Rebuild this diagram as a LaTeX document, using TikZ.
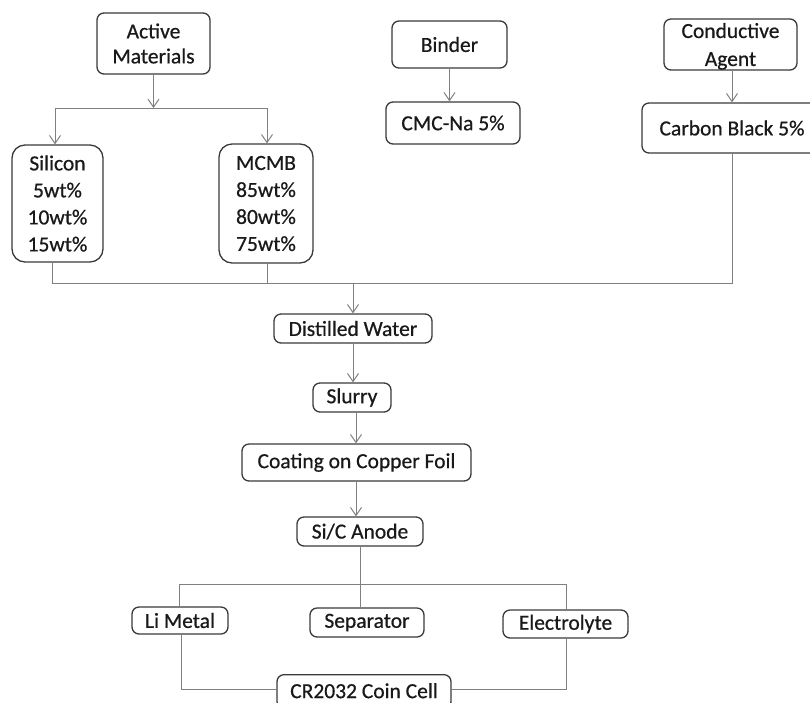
\documentclass[tikz,border=0pt]{standalone}
\usepackage{fontspec}
\setmainfont{Carlito}[BoldFont=Carlito, BoldFeatures={FakeBold=0.6}]
\usetikzlibrary{arrows.meta}
\definecolor{boxline}{HTML}{3A3A3A}
\definecolor{conn}{HTML}{808080}
\tikzset{
  box/.style={draw=boxline, line width=1.3pt, rounded corners=7pt, fill=white,
    inner sep=0pt, align=center, font=\fontsize{21.5}{27}\selectfont\bfseries, text=black!90},
  bigbox/.style={box, rounded corners=13pt},
  link/.style={draw=conn, line width=1pt},
  arr/.style={link, -{Straight Barb[length=8pt,width=11pt,line width=1pt]}},
}
\begin{document}
\begin{tikzpicture}[x=1pt,y=-1pt]
\useasboundingbox (0,0) rectangle (810,702);
\clip (0,0) rectangle (810,702);
% nodes
\node[box, minimum width=113pt, minimum height=61pt] (active) at (153.5,43.5) {Active\\[-2pt]Materials};
\node[bigbox, minimum width=91pt, minimum height=117pt] (silicon) at (57.5,203.5) {Silicon\\5wt\%\\10wt\%\\15wt\%};
\node[bigbox, minimum width=94pt, minimum height=119pt] (mcmb) at (266,203.5) {MCMB\\85wt\%\\80wt\%\\75wt\%};
\node[box, minimum width=115pt, minimum height=47pt] (binder) at (449.5,44.5) {Binder};
\node[box, minimum width=134pt, minimum height=42pt] (cmc) at (453,123) {CMC-Na 5\%};
\node[box, minimum width=133pt, minimum height=51pt, text depth=0pt] (cond) at (730.5,44.5) {\raisebox{2pt}{Conductive}\\[-1pt]Agent};
\node[box, minimum width=180pt, minimum height=50pt] (carbon) at (732,128) {Carbon Black 5\%};
\node[box, minimum width=158pt, minimum height=29pt] (water) at (353,328.5) {Distilled Water};
\node[box, minimum width=78pt, minimum height=29pt] (slurry) at (352,397.5) {Slurry};
\node[box, minimum width=229pt, minimum height=37pt] (coating) at (356.5,462.5) {Coating on Copper Foil};
\node[box, minimum width=126pt, minimum height=29pt] (sic) at (360,531.5) {Si/C Anode};
\node[box, minimum width=96pt, minimum height=27pt] (li) at (180,620.5) {Li Metal};
\node[box, minimum width=114pt, minimum height=29pt] (sep) at (367,622.5) {Separator};
\node[box, minimum width=125pt, minimum height=28pt] (elec) at (565.5,624) {Electrolyte};
\node[box, minimum width=174pt, minimum height=34pt, anchor=north] (coin) at (364,674) {\raisebox{2pt}{CR2032 Coin Cell}};
% coordinates
\coordinate (split) at (153.5,108);
\coordinate (sl) at (55,108);
\coordinate (sr) at (267,108);
\coordinate (jl) at (52,283);
\coordinate (jm) at (267,283);
\coordinate (jr) at (732,283);
\coordinate (jc) at (353,283);
\coordinate (bl) at (179,584);
\coordinate (br) at (566,584);
\coordinate (cl) at (181,689);
\coordinate (cr) at (566,689);
% connectors
\draw[arr] (active.south) -- (split);
\draw[link] (sl) -- (sr);
\draw[arr] (sl) -- (sl |- silicon.north);
\draw[arr] (sr) -- (sr |- mcmb.north);
\draw[arr] (binder.south) -- (binder.south |- cmc.north);
\draw[arr] (732,0 |- cond.south) -- (732,0 |- carbon.north);
\draw[link] (jl |- silicon.south) -- (jl) -- (jr) -- (jr |- carbon.south);
\draw[link] (mcmb.south -| jm) -- (jm);
\draw[arr] (jc) -- (jc |- water.north);
\draw[arr] (water.south -| 353,0) -- (slurry.north -| 353,0);
\draw[arr] (slurry.south -| 356,0) -- (coating.north -| 356,0);
\draw[arr] (coating.south -| 356,0) -- (sic.north -| 356,0);
\draw[link] (sic.south) -- (sic.south |- sep.north);
\draw[link] (bl |- li.north) -- (bl) -- (br) -- (br |- elec.north);
\draw[link] (li.south -| cl) -- (cl) -- (coin.west |- cl);
\draw[link] (elec.south -| cr) -- (cr) -- (coin.east |- cr);
\end{tikzpicture}
\end{document}
